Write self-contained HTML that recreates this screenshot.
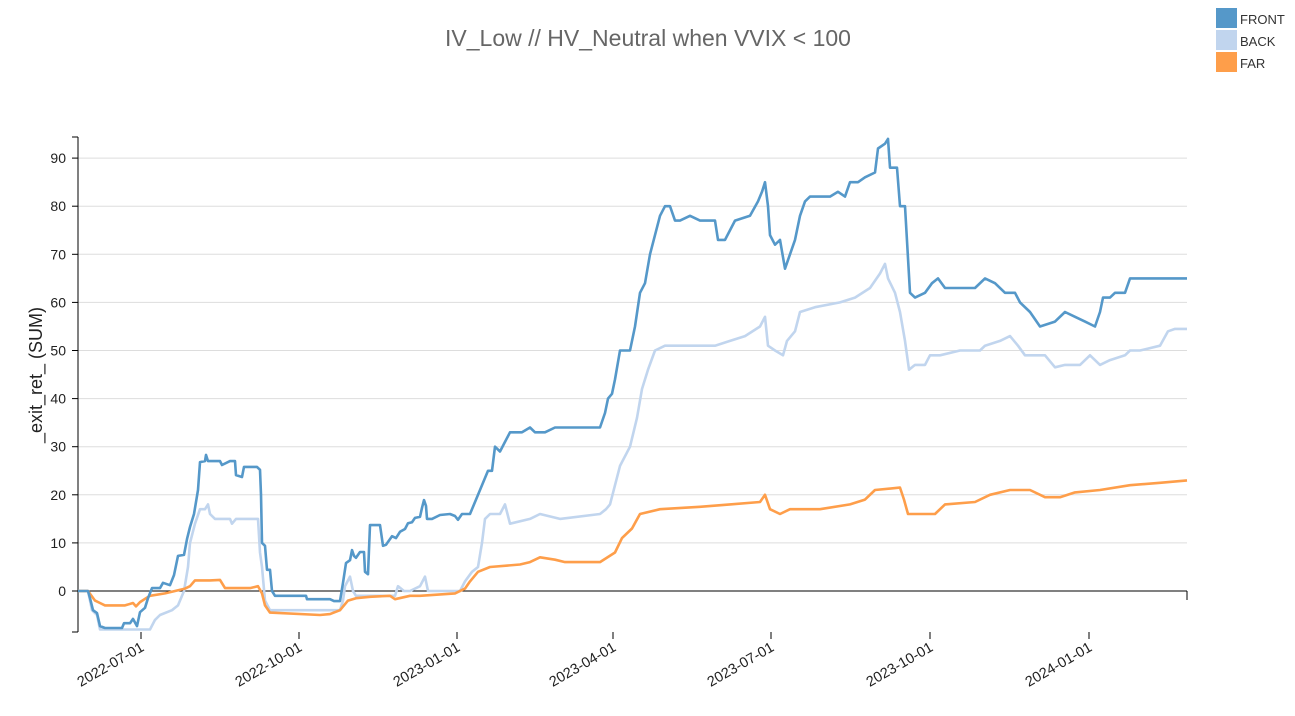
<!DOCTYPE html>
<html><head><meta charset="utf-8"><style>
body{margin:0;background:#fff;font-family:"Liberation Sans",sans-serif;}
</style></head><body>
<svg id="s" width="1295" height="711" xmlns="http://www.w3.org/2000/svg" font-family="Liberation Sans, sans-serif">
<text x="648" y="46" text-anchor="middle" font-size="23" fill="#666">IV_Low // HV_Neutral when VVIX &lt; 100</text>
<rect x="1216" y="8" width="21" height="20" fill="#5598c9"/><text x="1240" y="24" font-size="13" fill="#333">FRONT</text>
<rect x="1216" y="30" width="21" height="20" fill="#c1d5ee"/><text x="1240" y="46" font-size="13" fill="#333">BACK</text>
<rect x="1216" y="52" width="21" height="20" fill="#fe9e4a"/><text x="1240" y="68" font-size="13" fill="#333">FAR</text>
<text transform="translate(42,375) rotate(-90)" text-anchor="middle" font-size="18" fill="#222">_exit_ret_ (SUM)</text>
<g id="grid"></g>
<g id="lines"></g>
</svg>
<script>
const NS="http://www.w3.org/2000/svg",s=document.getElementById('s');
const Y=v=>591-v*4.81;
function el(t,a,p){const e=document.createElementNS(NS,t);for(const k in a)e.setAttribute(k,a[k]);(p||s).appendChild(e);return e;}
const g=document.getElementById('grid');
for(let v=0;v<=90;v+=10){const y=Y(v);if(v>0)el('line',{x1:78,x2:1187,y1:y,y2:y,stroke:'#ddd','stroke-width':1},g);
el('line',{x1:72,x2:78,y1:y,y2:y,stroke:'#000'},g);const t=el('text',{x:66,y:y+5,'text-anchor':'end','font-size':14,fill:'#222'},g);t.textContent=v;}
el('line',{x1:72,x2:78,y1:632,y2:632,stroke:'#000'},g);
el('line',{x1:78,x2:78,y1:137,y2:632,stroke:'#000'},g);
el('line',{x1:72,x2:78,y1:137,y2:137,stroke:'#000'},g);
el('line',{x1:78,x2:1187,y1:591,y2:591,stroke:'#000'},g);
el('line',{x1:1187,x2:1187,y1:591,y2:600,stroke:'#000'},g);
[[141,'2022-07-01'],[299,'2022-10-01'],[457,'2023-01-01'],[613,'2023-04-01'],[771,'2023-07-01'],[930,'2023-10-01'],[1089,'2024-01-01']].forEach(([x,l])=>{
el('line',{x1:x,x2:x,y1:632,y2:639,stroke:'#000'},g);
const t=el('text',{transform:`translate(${x+4},${650}) rotate(-30)`,'text-anchor':'end','font-size':14.5,fill:'#222'},g);t.textContent=l;});
const L=document.getElementById('lines');
function line(d,c){el('polyline',{points:d.map(([x,v])=>x+','+Y(v).toFixed(1)).join(' '),fill:'none',stroke:c,'stroke-width':2.6,'stroke-linejoin':'round'},L);}
const back=[[78,0],[88,0],[92,-4],[97,-5],[100,-8],[150,-8],[155,-6],[160,-5],[172,-4],[178,-3],[184,0],[188,5],[190,10],[195,14],[200,17],[205,17],[208,18],[210,16],[215,15],[230,15],[232,14],[236,15],[258,15],[260,8],[262,5],[265,-2],[270,-4],[340,-4],[343,-2],[345,1],[350,3],[353,0],[356,-1],[395,-1],[398,1],[404,0],[410,0],[420,1],[425,3],[428,0],[460,0],[465,2],[472,4],[478,5],[482,10],[485,15],[490,16],[500,16],[505,18],[510,14],[530,15],[540,16],[560,15],[600,16],[606,17],[610,18],[615,22],[620,26],[630,30],[637,36],[642,42],[648,46],[655,50],[665,51],[680,51],[715,51],[730,52],[745,53],[760,55],[765,57],[768,51],[775,50],[783,49],[787,52],[795,54],[800,58],[815,59],[840,60],[855,61],[870,63],[880,66],[885,68],[888,65],[895,62],[900,58],[905,52],[909,46],[915,47],[925,47],[930,49],[940,49],[960,50],[980,50],[985,51],[1000,52],[1010,53],[1018,51],[1025,49],[1045,49],[1055,46.5],[1065,47],[1080,47],[1090,49],[1100,47],[1110,48],[1125,49],[1130,50],[1140,50],[1160,51],[1168,54],[1175,54.5],[1187,54.5]];
const front=[[78,0],[88,0],[90,-1.5],[93,-4],[97,-4.6],[100,-7.3],[105,-7.7],[122,-7.7],[124,-6.7],[130,-6.7],[133,-5.8],[137,-7.3],[140,-4.4],[145,-3.5],[148,-1.5],[152,0.6],[160,0.6],[163,1.7],[170,1.2],[174,3.3],[178,7.3],[184,7.5],[187,10.8],[190,13.3],[194,16],[198,21],[200,26.8],[205,27],[206,28.3],[208,27],[220,27],[222,26.2],[230,27],[235,27],[236,24.1],[242,23.7],[244,25.8],[257,25.8],[260,25.2],[261,20],[262,10],[265,9.4],[267,4.4],[270,4.4],[272,0],[275,-1],[306,-1],[307,-1.7],[330,-1.7],[334,-2.1],[340,-2.1],[343,1.7],[346,5.8],[350,6.4],[352,8.5],[354,7.3],[356,6.9],[360,8.1],[364,8.1],[365,4],[368,3.5],[370,13.7],[380,13.7],[383,9.4],[386,9.6],[392,11.4],[396,11],[400,12.3],[405,12.9],[408,14.1],[412,14.3],[415,15.2],[420,15.4],[422,17.3],[424,18.9],[426,17.7],[427,15],[432,15],[440,15.8],[450,16],[455,15.6],[458,14.8],[462,16],[470,16],[476,19],[480,21],[488,25],[492,25],[495,30],[500,29],[505,31],[510,33],[522,33],[530,34],[535,33],[545,33],[555,34],[600,34],[605,37],[608,40],[612,41],[615,44],[620,50],[630,50],[635,55],[640,62],[645,64],[650,70],[655,74],[660,78],[665,80],[670,80],[675,77],[680,77],[690,78],[700,77],[715,77],[718,73],[725,73],[735,77],[750,78],[758,81],[762,83],[765,85],[768,80],[770,74],[775,72],[780,73],[785,67],[790,70],[795,73],[800,78],[805,81],[810,82],[830,82],[838,83],[845,82],[850,85],[858,85],[865,86],[875,87],[878,92],[885,93],[888,94],[890,88],[897,88],[900,80],[905,80],[910,62],[915,61],[925,62],[932,64],[938,65],[945,63],[975,63],[985,65],[995,64],[1005,62],[1015,62],[1020,60],[1030,58],[1040,55],[1055,56],[1065,58],[1075,57],[1085,56],[1095,55],[1100,58],[1103,61],[1110,61],[1115,62],[1125,62],[1130,65],[1150,65],[1187,65]];
const far=[[78,0],[88,0],[95,-2],[100,-2.5],[105,-3],[125,-3],[133,-2.5],[136,-3.2],[140,-2.3],[146,-1.5],[150,-1],[165,-0.5],[175,0],[185,0.5],[190,1],[195,2.2],[210,2.2],[220,2.3],[225,0.6],[250,0.6],[258,1],[262,-0.5],[265,-3],[270,-4.5],[320,-5],[330,-4.8],[340,-4],[348,-2],[356,-1.5],[370,-1.2],[390,-1],[395,-1.7],[410,-1],[420,-1],[455,-0.5],[465,0.5],[470,2],[478,4],[490,5],[520,5.5],[530,6],[540,7],[555,6.5],[565,6],[600,6],[615,8],[622,11],[632,13],[640,16],[660,17],[700,17.5],[730,18],[760,18.5],[765,20],[770,17],[780,16],[790,17],[820,17],[850,18],[865,19],[875,21],[900,21.5],[904,19],[908,16],[935,16],[945,18],[975,18.5],[990,20],[1010,21],[1030,21],[1045,19.5],[1060,19.5],[1075,20.5],[1100,21],[1130,22],[1160,22.5],[1187,23]];
line(back,'#c1d5ee');line(far,'#fe9e4a');line(front,'#5598c9');
</script>
</body></html>
